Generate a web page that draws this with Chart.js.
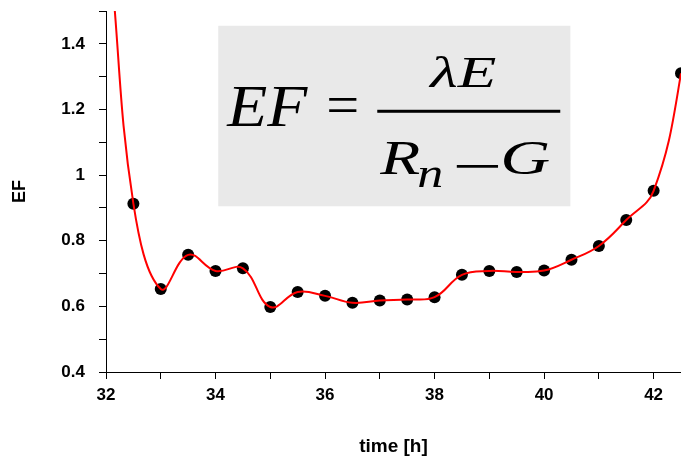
<!DOCTYPE html>
<html>
<head>
<meta charset="utf-8">
<script src="https://cdn.jsdelivr.net/npm/chart.js@4.4.1/dist/chart.umd.min.js"></script>
<style>
body { margin: 0; background: #fff; }
#wrap { position: relative; width: 681px; height: 463px; }
</style>
</head>
<body>
<div id="wrap"><canvas id="myChart" width="681" height="463"></canvas></div>
<script>
// measured points
var times = [32.5, 33, 33.5, 34, 34.5, 35, 35.5, 36, 36.5, 37, 37.5, 38, 38.5, 39, 39.5, 40, 40.5, 41, 41.5, 42, 42.5];
var ef = [0.913, 0.653, 0.757, 0.708, 0.716, 0.598, 0.644, 0.632, 0.611, 0.618, 0.621, 0.628, 0.696, 0.708, 0.705, 0.709, 0.742, 0.784, 0.863, 0.952, 1.31];

// where the red fit curve leaves the plot
var curveStart = [32.1, 1.62];
var curveEnd = [42.56, 1.5];

var xTicks = [32, 34, 36, 38, 40, 42];
var yTicks = [0.4, 0.6, 0.8, 1, 1.2, 1.4];

// inset box, in data units
var boxT = [34.05, 40.48];
var boxEF = [1.455, 0.905];

var pts = [];
for (var i in times) {
    pts.push({x: times[i], y: ef[i]});
}
var fit = [{x: curveStart[0], y: curveStart[1]}].concat(pts).concat([{x: curveEnd[0], y: curveEnd[1]}]);

function piece(ctx, txt, x, y, size, italic, w) {
    ctx.font = (italic ? 'italic ' : '') + size + 'px "Liberation Serif", "Times New Roman", serif';
    var m = ctx.measureText(txt).width;
    ctx.save();
    ctx.translate(x, y);
    ctx.scale(w / m, 1);
    ctx.fillText(txt, 0, 0);
    ctx.restore();
}

var formula = {
    id: 'formula',
    afterDraw: function(chart) {
        var ctx = chart.ctx;
        var sx = chart.scales.x, sy = chart.scales.y;
        var x0 = sx.getPixelForValue(boxT[0]), x1 = sx.getPixelForValue(boxT[1]);
        var y0 = sy.getPixelForValue(boxEF[0]), y1 = sy.getPixelForValue(boxEF[1]);
        ctx.save();
        ctx.fillStyle = '#e9e9e9';
        ctx.fillRect(x0, y0, x1 - x0, y1 - y0);
        ctx.fillStyle = '#000';
        ctx.textBaseline = 'alphabetic';
        ctx.textAlign = 'left';
        piece(ctx, 'EF', x0 + 9, y0 + 100, 60, true, 80);
        piece(ctx, '=', x0 + 108, y0 + 98, 56, false, 33);
        piece(ctx, '\u03bbE', x0 + 212, y0 + 61, 45, true, 66);
        ctx.fillRect(x0 + 159, y0 + 84, 183, 3);
        piece(ctx, 'R', x0 + 162, y0 + 148, 48, true, 40);
        piece(ctx, 'n', x0 + 199, y0 + 161, 40, true, 26);
        piece(ctx, '\u2212', x0 + 234, y0 + 159, 56, false, 50);
        piece(ctx, 'G', x0 + 282, y0 + 148, 48, true, 50);
        ctx.restore();
    }
};

var tickFont = {family: '"Liberation Sans", Arial, sans-serif', size: 17, weight: 'bold'};

var ctx = document.getElementById('myChart');
var chart = new Chart(ctx, {
    data: {
        datasets: [
            {
                type: 'line',
                data: fit,
                borderColor: '#ff0000',
                borderWidth: 2,
                pointRadius: 0,
                tension: 0.4,
                fill: false
            },
            {
                type: 'scatter',
                data: pts,
                backgroundColor: '#000',
                borderColor: '#000',
                pointRadius: 6,
                pointBorderWidth: 0
            }
        ]
    },
    options: {
        responsive: false,
        animation: false,
        layout: {autoPadding: false, padding: {top: 11, right: 0, left: 0, bottom: 0}},
        plugins: {legend: {display: false}, tooltip: {enabled: false}},
        scales: {
            x: {
                type: 'linear',
                min: 32,
                max: 42.5,
                afterFit: function(s) { s.height = 91; s.paddingLeft = 0; s.paddingRight = 0; },
                border: {color: '#000', width: 1},
                grid: {drawOnChartArea: false, tickLength: 7, tickColor: '#000'},
                ticks: {
                    stepSize: 1,
                    includeBounds: false,
                    autoSkip: false,
                    maxRotation: 0,
                    color: '#000',
                    font: tickFont,
                    padding: 6,
                    callback: function(v) { return xTicks.indexOf(v) >= 0 ? String(v) : ''; }
                },
                title: {
                    display: true,
                    text: 'time [h]',
                    color: '#000',
                    font: {family: '"Liberation Sans", Arial, sans-serif', size: 19, weight: 'bold'},
                    padding: {top: 0, bottom: 5}
                }
            },
            y: {
                min: 0.4,
                max: 1.5,
                afterFit: function(s) { s.width = 106; s.paddingTop = 0; s.paddingBottom = 0; },
                border: {color: '#000', width: 1},
                grid: {drawOnChartArea: false, tickLength: 7, tickColor: '#000'},
                ticks: {
                    stepSize: 0.1,
                    autoSkip: false,
                    color: '#000',
                    font: tickFont,
                    padding: 14,
                    callback: function(v) {
                        var r = Math.round(v * 10) / 10;
                        return yTicks.indexOf(r) >= 0 ? String(r) : '';
                    }
                },
                title: {
                    display: true,
                    text: 'EF',
                    color: '#000',
                    font: {family: '"Liberation Sans", Arial, sans-serif', size: 18, weight: 'bold'},
                    padding: {top: 9, bottom: 0}
                }
            }
        }
    },
    plugins: [formula]
});
</script>
</body>
</html>
